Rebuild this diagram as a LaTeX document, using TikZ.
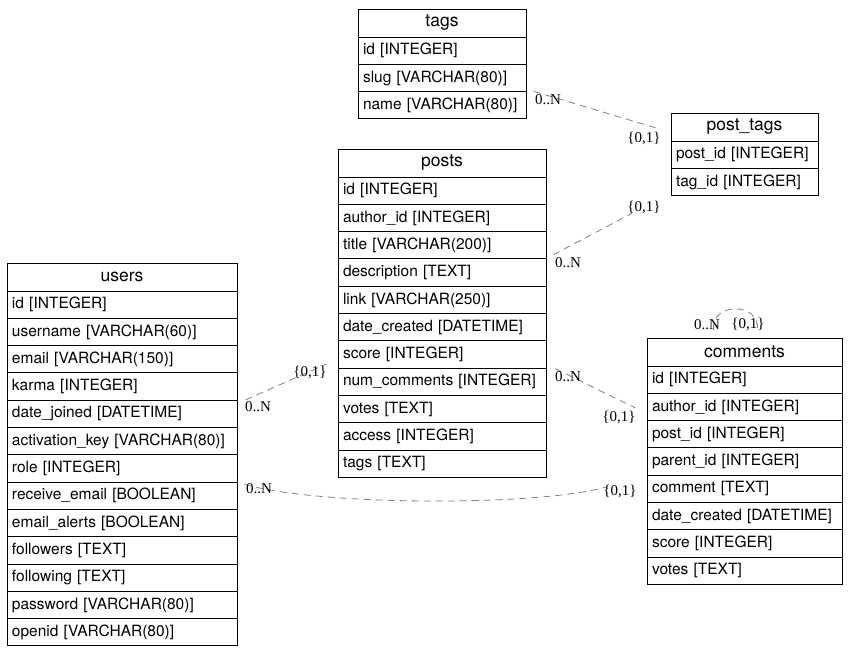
\documentclass[tikz,border=0pt]{standalone}
\usepackage{fontspec}
\setmainfont{TeX Gyre Heros}
\newfontfamily\cardfont{Liberation Serif}
\usetikzlibrary{positioning,fit}
\definecolor{relgray}{RGB}{128,128,128}

\begin{document}
\begin{tikzpicture}[
  x=1pt, y=1pt,
  node distance=0pt,
  tabhead/.style={draw, line width=0.9pt, minimum width=#1, minimum height=28pt,
    inner sep=0pt, outer sep=0pt, font=\fontsize{17.5}{20}\selectfont, anchor=north west},
  tabrow/.style={draw, line width=0.9pt, text width=#1, minimum height=27.3pt,
    inner xsep=5pt, inner ysep=0pt, outer sep=0pt, align=left,
    font=\fontsize{15.5}{18}\selectfont},
  tabfit/.style={fit=#1, inner sep=0pt},
  rel/.style={draw=relgray, line width=0.8pt, dash pattern=on 7pt off 5pt},
  card/.style={font=\cardfont\fontsize{15}{17}\selectfont, inner sep=0pt}
]
\useasboundingbox (0,0) rectangle (850,-654);

% tags
\node[tabhead=168pt] (tags-head) at (358,-9) {tags};
\node[tabrow=158pt, below=of tags-head] (tags-id) {id [INTEGER]};
\node[tabrow=158pt, below=of tags-id] (tags-slug) {slug [VARCHAR(80)]};
\node[tabrow=158pt, below=of tags-slug] (tags-name) {name [VARCHAR(80)]};
\node[tabfit={(tags-head)(tags-name)}] (tags) {};

% post_tags
\node[tabhead=147pt] (ptags-head) at (671,-113) {post\_tags};
\node[tabrow=137pt, below=of ptags-head] (ptags-post) {post\_id [INTEGER]};
\node[tabrow=137pt, below=of ptags-post] (ptags-tag) {tag\_id [INTEGER]};
\node[tabfit={(ptags-head)(ptags-tag)}] (ptags) {};

% posts
\node[tabhead=208pt] (posts-head) at (338,-149) {posts};
\node[tabrow=198pt, below=of posts-head] (posts-id) {id [INTEGER]};
\node[tabrow=198pt, below=of posts-id] (posts-author) {author\_id [INTEGER]};
\node[tabrow=198pt, below=of posts-author] (posts-title) {title [VARCHAR(200)]};
\node[tabrow=198pt, below=of posts-title] (posts-desc) {description [TEXT]};
\node[tabrow=198pt, below=of posts-desc] (posts-link) {link [VARCHAR(250)]};
\node[tabrow=198pt, below=of posts-link] (posts-date) {date\_created [DATETIME]};
\node[tabrow=198pt, below=of posts-date] (posts-score) {score [INTEGER]};
\node[tabrow=198pt, below=of posts-score] (posts-num) {num\_comments [INTEGER]};
\node[tabrow=198pt, below=of posts-num] (posts-votes) {votes [TEXT]};
\node[tabrow=198pt, below=of posts-votes] (posts-access) {access [INTEGER]};
\node[tabrow=198pt, below=of posts-access] (posts-tags) {tags [TEXT]};
\node[tabfit={(posts-head)(posts-tags)}] (posts) {};

% users
\node[tabhead=230pt] (users-head) at (7,-263) {users};
\node[tabrow=220pt, below=of users-head] (users-id) {id [INTEGER]};
\node[tabrow=220pt, below=of users-id] (users-name) {username [VARCHAR(60)]};
\node[tabrow=220pt, below=of users-name] (users-email) {email [VARCHAR(150)]};
\node[tabrow=220pt, below=of users-email] (users-karma) {karma [INTEGER]};
\node[tabrow=220pt, below=of users-karma] (users-joined) {date\_joined [DATETIME]};
\node[tabrow=220pt, below=of users-joined] (users-key) {activation\_key [VARCHAR(80)]};
\node[tabrow=220pt, below=of users-key] (users-role) {role [INTEGER]};
\node[tabrow=220pt, below=of users-role] (users-receive) {receive\_email [BOOLEAN]};
\node[tabrow=220pt, below=of users-receive] (users-alerts) {email\_alerts [BOOLEAN]};
\node[tabrow=220pt, below=of users-alerts] (users-followers) {followers [TEXT]};
\node[tabrow=220pt, below=of users-followers] (users-following) {following [TEXT]};
\node[tabrow=220pt, below=of users-following] (users-pass) {password [VARCHAR(80)]};
\node[tabrow=220pt, below=of users-pass] (users-openid) {openid [VARCHAR(80)]};
\node[tabfit={(users-head)(users-openid)}] (users) {};

% comments
\node[tabhead=195pt] (com-head) at (647,-338) {comments};
\node[tabrow=185pt, below=of com-head] (com-id) {id [INTEGER]};
\node[tabrow=185pt, below=of com-id] (com-author) {author\_id [INTEGER]};
\node[tabrow=185pt, below=of com-author] (com-post) {post\_id [INTEGER]};
\node[tabrow=185pt, below=of com-post] (com-parent) {parent\_id [INTEGER]};
\node[tabrow=185pt, below=of com-parent] (com-comment) {comment [TEXT]};
\node[tabrow=185pt, below=of com-comment] (com-date) {date\_created [DATETIME]};
\node[tabrow=185pt, below=of com-date] (com-score) {score [INTEGER]};
\node[tabrow=185pt, below=of com-score] (com-votes) {votes [TEXT]};
\node[tabfit={(com-head)(com-votes)}] (comments) {};

% relations
\draw[rel, shorten <=8pt, shorten >=13pt] (tags) -- (ptags);
\draw[rel, shorten <=8pt, shorten >=44pt] (posts) -- (ptags);
\draw[rel, shorten <=9pt, shorten >=12pt] (users) -- (posts);
\draw[rel, shorten <=10pt, shorten >=13pt] (posts) -- (comments);
\draw[rel, shorten <=8pt, shorten >=42pt] (users-role.south east)
  .. controls +(83,-24) and +(-107,-31) .. (com-parent.south west);
\draw[rel, shorten <=8pt, shorten >=8pt] ([xshift=-30pt]comments.north)
  .. controls +(-4,36) and +(4,36) .. ([xshift=12pt]comments.north);

% cardinalities
\node[card] (tags-many) at (548,-100) {0..N};
\node[card] (ptags-one-a) at (644,-138) {\{0,1\}};
\node[card] (posts-many-a) at (568,-263) {0..N};
\node[card] (ptags-one-b) at (644,-207) {\{0,1\}};
\node[card] (users-many-a) at (258,-407) {0..N};
\node[card] (posts-one) at (310,-372) {\{0,1\}};
\node[card] (posts-many-b) at (568,-377) {0..N};
\node[card] (com-one-a) at (619,-417) {\{0,1\}};
\node[card] (users-many-b) at (259,-489) {0..N};
\node[card] (com-one-b) at (620,-491) {\{0,1\}};
\node[card] (com-many) at (707,-325) {0..N};
\node[card] (com-one-c) at (748,-324) {\{0,1\}};
\end{tikzpicture}
\end{document}
